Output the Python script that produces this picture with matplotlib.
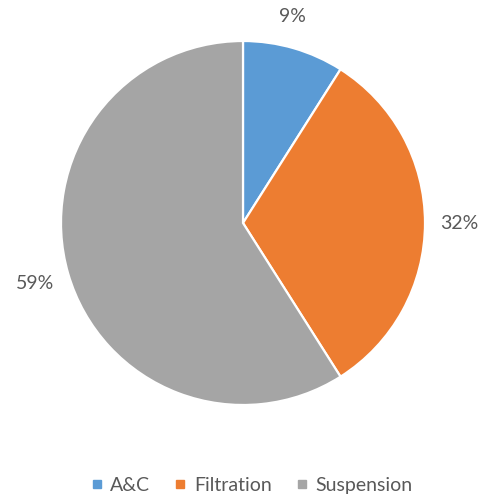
import matplotlib.pyplot as plt
from matplotlib.lines import Line2D

categories = ["A&C", "Filtration", "Suspension"]
shares = [9, 32, 59]
colors = ["#5B9BD5", "#ED7D31", "#A5A5A5"]
text_color = "#595959"

plt.rcParams["font.family"] = ["Lato", "DejaVu Sans"]

W, H = 485, 494
fig = plt.figure(figsize=(W / 100, H / 100), dpi=100)
cx, cy, r = 243, 223, 182
ax = fig.add_axes([(cx - r) / W, (H - cy - r) / H, 2 * r / W, 2 * r / H])

wedges, texts, autotexts = ax.pie(
    shares, colors=colors, startangle=90, counterclock=False,
    autopct=lambda p: f"{round(p)}%", pctdistance=1.19, radius=1,
    wedgeprops=dict(edgecolor="white", linewidth=1.6),
    textprops=dict(color=text_color, fontsize=14),
)
# the small slice label sits a bit closer to the top
x, y = autotexts[0].get_position()
autotexts[0].set_position((x - 0.06, y - 0.01))
ax.set_xlim(-1, 1)
ax.set_ylim(-1, 1)
ax.axis("off")

handles = [Line2D([], [], marker="s", linestyle="none", markersize=6,
                  markerfacecolor=c, markeredgecolor=c) for c in colors]
fig.legend(handles, categories, loc="lower center", ncol=3, frameon=False,
           bbox_to_anchor=(0.515, -0.035), fontsize=14, labelcolor=text_color,
           handletextpad=0.2, columnspacing=1.05, handlelength=1.0)

fig.savefig("out.png", dpi=100)
